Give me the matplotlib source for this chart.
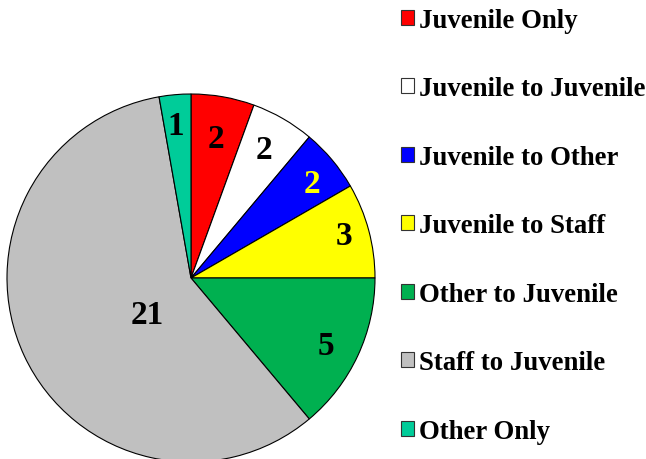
import matplotlib
matplotlib.use("Agg")
import matplotlib.pyplot as plt
from matplotlib.patches import Patch
import numpy as np

categories = ["Juvenile Only", "Juvenile to Juvenile", "Juvenile to Other",
              "Juvenile to Staff", "Other to Juvenile", "Staff to Juvenile", "Other Only"]
values = [2, 2, 2, 3, 5, 21, 1]
colors = ["#FF0000", "#FFFFFF", "#0000FF", "#FFFF00", "#00B050", "#C0C0C0", "#00CC99"]
label_colors = ["black", "black", "#FFFF00", "black", "black", "black", "black"]
label_dist = [0.783, 0.814, 0.842, 0.864, 0.812, 0.302, 0.846]
label_ang_off = [0.2, 1.0, -1.1, 1.4, -0.8, 12.7, 0.5]

plt.rcParams['font.family'] = ['Liberation Serif', 'DejaVu Serif']
plt.rcParams['font.weight'] = 'bold'

W, H = 646, 460
fig = plt.figure(figsize=(W / 100, H / 100), dpi=100)
cx, cy, r = 191, 181, 184
ax = fig.add_axes([(cx - r) / W, (cy - r) / H, 2 * r / W, 2 * r / H])

wedges, _ = ax.pie(values, colors=colors, startangle=90, counterclock=False,
                   wedgeprops=dict(edgecolor="black", linewidth=0.8))
ax.set_xlim(-1, 1)
ax.set_ylim(-1, 1)
ax.set_aspect("equal")
ax.axis("off")

fs = 24
for w, v, c, d, o in zip(wedges, values, label_colors, label_dist, label_ang_off):
    ang = np.deg2rad((w.theta1 + w.theta2) / 2 + o)
    ax.annotate(str(v), (d * np.cos(ang), d * np.sin(ang)), xytext=(0, -0.338 * fs),
                textcoords="offset points", ha="center", va="baseline",
                fontsize=fs, fontweight="bold", color=c)

handles = [Patch(facecolor=c, edgecolor="#333333", linewidth=0.8) for c in colors]
fig.legend(handles, categories, loc="upper left", bbox_to_anchor=(393 / W, 1.0 - 1.0 / H),
           frameon=False, prop={'weight': 'bold', 'size': 19.3},
           handlelength=0.48, handleheight=0.48, handletextpad=0.2,
           labelspacing=1.62, borderaxespad=0.0, borderpad=0.3)

fig.savefig("out.png", dpi=100)
